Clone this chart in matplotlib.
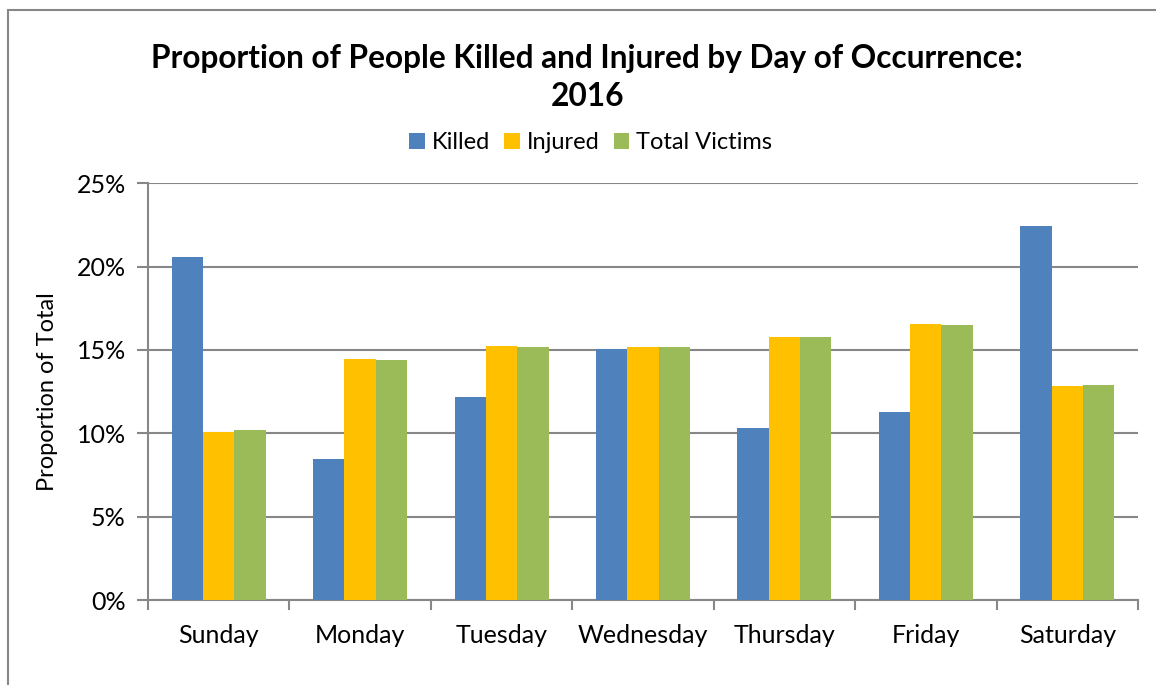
import numpy as np
import matplotlib.pyplot as plt
from matplotlib.patches import Rectangle
from matplotlib.ticker import FuncFormatter

days = ['Sunday', 'Monday', 'Tuesday', 'Wednesday', 'Thursday', 'Friday', 'Saturday']
killed = [20.56, 8.45, 12.17, 15.05, 10.31, 11.27, 22.42]
injured = [10.08, 14.45, 15.23, 15.17, 15.77, 16.55, 12.85]
total = [10.18, 14.39, 15.19, 15.17, 15.75, 16.49, 12.92]

plt.rcParams['font.family'] = ['Lato', 'DejaVu Sans']

fig = plt.figure(figsize=(11.56, 6.85), dpi=100)
ax = fig.add_axes([0.128, 0.124, 0.8564, 0.6085])

x = np.arange(len(days))
w = 0.2215
ax.bar(x - w, killed, w, color='#4F81BD', label='Killed', zorder=3)
ax.bar(x, injured, w, color='#FFC000', label='Injured', zorder=3)
ax.bar(x + w, total, w, color='#9BBB59', label='Total Victims', zorder=3)

ax.set_xlim(-0.5, len(days) - 0.5)
ax.set_ylim(0, 25)
ax.set_yticks(np.arange(0, 26, 5))
ax.yaxis.set_major_formatter(FuncFormatter(lambda v, p: f'{v:.0f}%'))
ax.yaxis.grid(True, color='#878787', lw=1.5, zorder=0)

ax.set_xticks(x)
ax.set_xticklabels(days)
ax.set_xticks(np.arange(-0.5, len(days)), minor=True)
ax.tick_params(axis='x', which='major', length=0, pad=17, labelsize=18)
ax.tick_params(axis='x', which='minor', length=7, width=1.5, color='#878787')
ax.tick_params(axis='y', length=8, width=1.5, color='#878787', labelsize=18, pad=8)

for s in ['top', 'right']:
    ax.spines[s].set_visible(False)
for s in ['left', 'bottom']:
    ax.spines[s].set_color('#878787')
    ax.spines[s].set_linewidth(1.5)

ax.set_ylabel('Proportion of Total', fontsize=17, labelpad=13)

fig.text(0.508, 0.887, 'Proportion of People Killed and Injured by Day of Occurrence:\n2016',
         ha='center', va='center', fontsize=22.8, fontweight='bold', linespacing=1.35)

fig.legend(loc='center', bbox_to_anchor=(0.511, 0.792), ncol=3, frameon=False,
           fontsize=17, handlelength=0.65, handleheight=0.65, handletextpad=0.3,
           columnspacing=0.6)

# outer chart frame (partially cropped in the original)
fig.patches.append(Rectangle((8 / 1156, -0.1), 1.2, 0.1 + (685 - 10) / 685,
                             transform=fig.transFigure, fill=False,
                             edgecolor='#878787', lw=1.5))

fig.savefig('out.png', dpi=100)
